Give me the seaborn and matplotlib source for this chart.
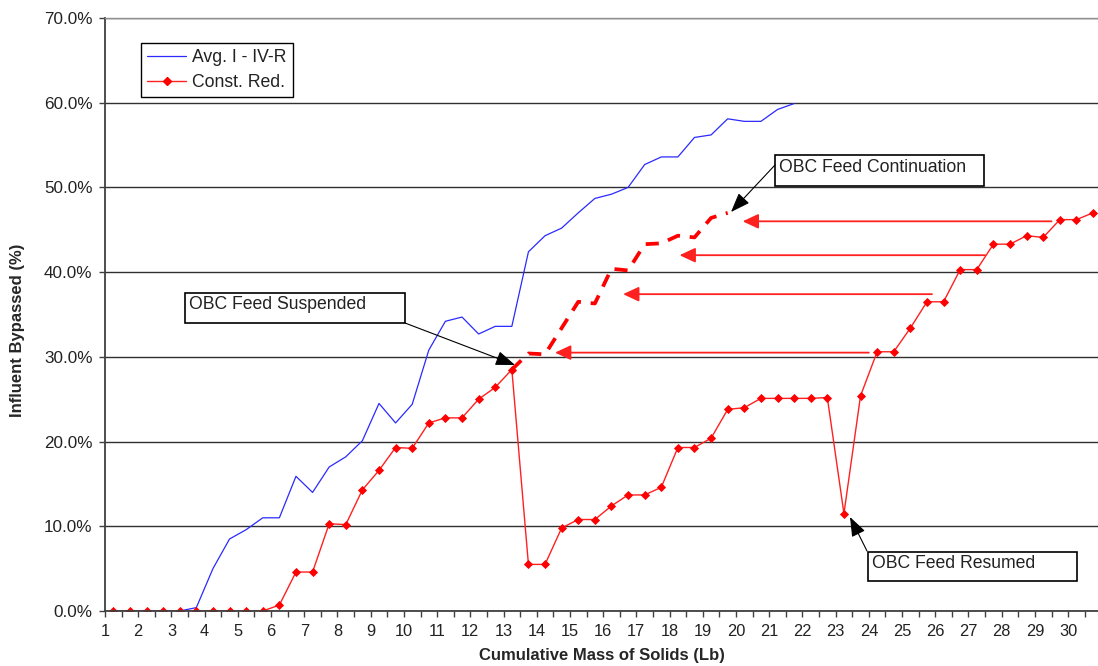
import numpy as np
import matplotlib
matplotlib.use("Agg")
import matplotlib.pyplot as plt
from matplotlib.lines import Line2D
from matplotlib.patches import Rectangle
import seaborn as sns

# ---------------- data ----------------
x_red = [1.25, 1.75, 2.25, 2.75, 3.25, 3.75, 4.25, 4.75, 5.25, 5.75,
         6.25, 6.75, 7.25, 7.75, 8.25, 8.75, 9.25, 9.75, 10.25, 10.75,
         11.25, 11.75, 12.25, 12.75, 13.25, 13.75, 14.25, 14.75, 15.25, 15.75,
         16.25, 16.75, 17.25, 17.75, 18.25, 18.75, 19.25, 19.75, 20.25, 20.75,
         21.25, 21.75, 22.25, 22.75, 23.25, 23.75, 24.25, 24.75, 25.25, 25.75,
         26.25, 26.75, 27.25, 27.75, 28.25, 28.75, 29.25, 29.75, 30.25, 30.75]
const_red = [0.0, 0.0, 0.0, 0.0, 0.0, 0.0, 0.0, 0.0, 0.0, 0.0,
             0.7, 4.6, 4.6, 10.3, 10.2, 14.3, 16.6, 19.3, 19.2, 22.2,
             22.8, 22.8, 25.0, 26.4, 28.5, 5.5, 5.5, 9.8, 10.8, 10.8,
             12.4, 13.7, 13.7, 14.6, 19.3, 19.3, 20.4, 23.8, 24.0, 25.1,
             25.1, 25.1, 25.1, 25.2, 11.5, 25.4, 30.6, 30.6, 33.4, 36.5,
             36.5, 40.3, 40.3, 43.3, 43.3, 44.3, 44.1, 46.2, 46.2, 47.0]

x_blue = [1.25, 1.75, 2.25, 2.75, 3.25, 3.75, 4.25, 4.75, 5.25, 5.75,
          6.25, 6.75, 7.25, 7.75, 8.25, 8.75, 9.25, 9.75, 10.25, 10.75,
          11.25, 11.75, 12.25, 12.75, 13.25, 13.75, 14.25, 14.75, 15.25, 15.75,
          16.25, 16.75, 17.25, 17.75, 18.25, 18.75, 19.25, 19.75, 20.25, 20.75,
          21.25, 21.75]
avg_blue = [0.0, 0.0, 0.0, 0.0, 0.0, 0.4, 5.0, 8.5, 9.6, 11.0,
            11.0, 15.9, 14.0, 17.0, 18.2, 20.1, 24.5, 22.2, 24.4, 30.8,
            34.2, 34.7, 32.7, 33.6, 33.6, 42.4, 44.3, 45.2, 47.0, 48.7,
            49.2, 50.0, 52.7, 53.6, 53.6, 55.9, 56.2, 58.1, 57.8, 57.8,
            59.2, 59.9]

# continuation (feed not suspended)
x_cont = [13.25, 13.75, 14.25, 14.75, 15.25, 15.75, 16.25, 16.75,
          17.25, 17.75, 18.25, 18.75, 19.25, 19.75]
cont_vals = [28.5, 30.4, 30.3, 33.4, 36.5, 36.3, 40.4, 40.2,
             43.3, 43.4, 44.3, 44.1, 46.4, 47.0]

x_ticks = [1, 2, 3, 4, 5, 6, 7, 8, 9, 10, 11, 12, 13, 14, 15,
           16, 17, 18, 19, 20, 21, 22, 23, 24, 25, 26, 27, 28, 29, 30]
y_ticks = [0, 10, 20, 30, 40, 50, 60, 70]
y_tick_labels = ["0.0%", "10.0%", "20.0%", "30.0%", "40.0%", "50.0%", "60.0%", "70.0%"]

# shift arrows: (from x, to x, level)
shift_arrows = [(29.5, 20.2, 46.0), (27.5, 18.3, 42.0),
                (25.9, 16.6, 37.4), (24.0, 14.55, 30.5)]

# ---------------- setup ----------------
sns.set_theme(style="white")
plt.rcParams["font.family"] = ["Liberation Sans", "DejaVu Sans"]

W, H = 1098, 666
L, R, T, B = 105, 1098, 18, 611

fig = plt.figure(figsize=(W / 100, H / 100), dpi=100)
ax = fig.add_axes([L / W, 1 - B / H, (R - L) / W, (B - T) / H])


def px(x, y):
    # pixel position -> axes fraction
    return ((x - L) / (R - L), (B - y) / (B - T))


# ---------------- lines ----------------
sns.lineplot(x=x_blue, y=avg_blue, ax=ax, color="#2a2aff", lw=0.9)
sns.lineplot(x=x_red, y=const_red, ax=ax, color="#ff2020", lw=1.0,
             marker="D", markersize=4.2, markerfacecolor="red",
             markeredgecolor="red", markeredgewidth=0.6)
sns.lineplot(x=x_cont, y=cont_vals, ax=ax, color="red", lw=2.7)
ax.lines[-1].set_dashes([3.5, 2.6])
ax.lines[-1].set_dash_capstyle("butt")

ax.set_xlim(1, 30.9)
ax.set_ylim(0, 70)

ax.set_yticks(y_ticks, labels=y_tick_labels)
ax.set_xticks(x_ticks, labels=[str(v) for v in x_ticks])
ax.set_xticks([v + 0.5 for v in x_ticks], minor=True)

ax.yaxis.grid(True, color="#303030", lw=1.0)
ax.set_axisbelow(True)

for s in ["left", "bottom"]:
    ax.spines[s].set_color("#404040")
    ax.spines[s].set_linewidth(1.3)
ax.spines["top"].set_color("#909090")
ax.spines["top"].set_linewidth(1.0)
ax.spines["right"].set_visible(False)

ax.tick_params(axis="y", which="major", left=True, direction="out", length=4,
               width=1, color="#404040", labelsize=12.3, pad=5, labelcolor="#222222")
ax.tick_params(axis="x", which="both", bottom=True, direction="out", length=4,
               width=1, color="#404040", labelsize=11.8, pad=5, labelcolor="#222222")

ax.set_xlabel("Cumulative Mass of Solids (Lb)", fontsize=12, fontweight="bold",
              labelpad=7)
ax.set_ylabel("Influent Bypassed (%)", fontsize=12, fontweight="bold")
ax.yaxis.set_label_coords(*px(25, 330))

# ---------------- legend ----------------
handles = [
    Line2D([], [], color="#2a2aff", lw=0.9),
    Line2D([], [], color="#ff2020", lw=1.0, marker="D", markersize=4.2,
           markerfacecolor="red", markeredgecolor="red"),
]
leg = ax.legend(handles, ["Avg. I - IV-R", "Const. Red."], loc="upper left",
                bbox_to_anchor=px(141, 43), borderaxespad=0, fancybox=False,
                framealpha=1, edgecolor="black", fontsize=12.7,
                handlelength=2.2, handletextpad=0.35, labelspacing=0.45,
                borderpad=0.35)
leg.get_frame().set_linewidth(1.0)
for t in leg.get_texts():
    t.set_color("#222222")

# ---------------- red shift arrows ----------------
for x0, x1, yv in shift_arrows:
    ax.annotate("", xy=(x1, yv), xytext=(x0, yv),
                arrowprops=dict(arrowstyle="-|>,head_length=0.6,head_width=0.28",
                                color="#ff2020", lw=1.3, shrinkA=0, shrinkB=0,
                                mutation_scale=16))

# ---------------- callout boxes ----------------
callouts = [
    ("OBC Feed Suspended", (185, 293, 405, 323), 305, (405, 323), (515, 365)),
    ("OBC Feed Continuation", (775, 155, 984, 186), 167, (775, 165), (731, 212)),
    ("OBC Feed Resumed", (868, 552, 1077, 581), 563, (867, 551), (850, 517)),
]
for label, (x0, y0, x1, y1), ty, tail, tip in callouts:
    a0 = px(x0, y1)
    a1 = px(x1, y0)
    ax.add_patch(Rectangle(a0, a1[0] - a0[0], a1[1] - a0[1],
                           transform=ax.transAxes, fc="white", ec="black",
                           lw=1.2, zorder=5, clip_on=False))
    ax.text(*px(x0 + 4, ty), label, transform=ax.transAxes, ha="left",
            va="center", fontsize=12.7, color="#222222", zorder=6)
    ax.annotate("", xy=px(*tip), xytext=px(*tail), xycoords="axes fraction",
                textcoords="axes fraction",
                arrowprops=dict(arrowstyle="-|>,head_length=0.75,head_width=0.28",
                                color="black", lw=0.8, shrinkA=0, shrinkB=0,
                                mutation_scale=16), zorder=6)

fig.savefig("out.png", dpi=100)
